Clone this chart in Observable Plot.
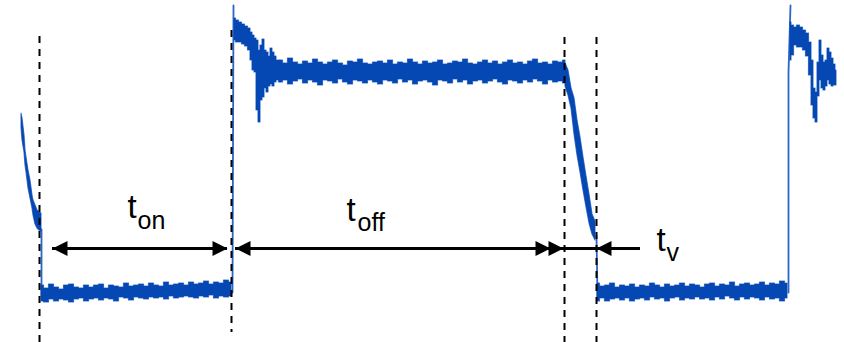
<!DOCTYPE html>
<html>
<head>
<meta charset="utf-8">
<script src="https://cdn.jsdelivr.net/npm/d3@7"></script>
<script src="https://cdn.jsdelivr.net/npm/@observablehq/plot@0.6"></script>
<style>
  html, body { margin: 0; padding: 0; background: #ffffff; }
  #chart { width: 844px; height: 342px; }
</style>
</head>
<body>
<div id="chart"></div>
<script>
// ---- Data (x = time in sample units, y = level in screen-like units, 0 at top) ----
// initial falling tail
const startX      = [21, 22, 24, 25, 26, 28, 30, 32, 33, 35, 37, 39, 41];
const startTop    = [113, 118, 135, 150, 157, 170, 180, 195, 200, 205, 210, 212, 213];
const startBottom = [127, 140, 152, 165, 172, 188, 198, 208, 215, 224, 228, 230, 231];

// low (on) plateau 1, sampled every 5 units from 41
const low1Top = [285,288,284,287,289,285,284,287,288,285, 287,285,284,288,285,286,287,283,286,285,
                 284,286,283,285,286,282,285,284,283,285, 282,284,283,281,284,282,283,280,282];
const low1Bottom = [301,302,299,301,299,300,302,299,298,301, 299,298,300,298,299,301,297,298,300,297,
                    298,299,297,298,297,299,296,298,297,296, 297,298,296,297,295,298,296,297,296];

// turn-off ringing 1
const ring1X      = [234, 237, 240, 243, 246, 249, 251, 253, 255, 257, 259, 261, 263, 265, 267, 269, 271, 273, 275, 277, 280];
const ring1Top    = [18, 20, 22, 24, 26, 28, 32, 35, 38, 40, 50, 45, 39, 50, 52, 56, 48, 52, 56, 60, 60];
const ring1Bottom = [40, 42, 42, 44, 46, 50, 60, 70, 72, 110, 122, 100, 97, 88, 92, 86, 84, 86, 82, 80, 82];

// high (off) plateau, sampled every 5 units from 280
const plateauTop = [60,63,58,62,64,61,63,59,62,64, 62,60,63,65,61,62,59,63,64,62,
                    61,63,60,64,62,63,59,62,64,61, 63,62,60,64,63,61,62,59,63,64,
                    62,60,63,61,64,62,60,63,62,64, 61,59,63,62,64,61,62,60];
const plateauBottom = [82,80,84,81,79,83,80,82,85,80, 81,83,79,82,84,80,81,83,80,82,
                       84,80,81,83,79,82,80,84,81,80, 82,85,80,81,83,79,82,80,84,81,
                       80,83,81,79,82,84,80,81,83,80, 82,79,81,84,80,82,81,83];

// falling ramp (t_v)
const fallX      = [565, 568, 571, 574, 577, 580, 583, 586, 589, 592, 595];
const fallTop    = [63, 70, 88, 98, 120, 137, 157, 176, 194, 214, 221];
const fallBottom = [86, 95, 108, 134, 155, 172, 190, 207, 223, 234, 240];

// low (on) plateau 2, sampled every 5 units from 597
const low2Top = [283,286,285,283,287,285,286,284,287,285, 286,283,285,287,284,286,285,283,286,284,
                 285,287,284,283,286,284,285,282,286,284, 283,285,284,282,285,283,284,281,283];
const low2Bottom = [301,298,301,299,298,300,298,301,299,298, 300,297,299,298,301,298,297,300,298,299,
                    297,299,298,300,297,299,296,298,300,297, 299,297,298,300,297,299,298,301,298];

// turn-off ringing 2
const ring2X      = [790, 792, 795, 798, 801, 804, 807, 810, 812, 814, 816, 818, 820, 822, 824, 826, 828, 830, 832, 834, 836];
const ring2Top    = [22, 25, 27, 25, 27, 30, 33, 42, 60, 88, 92, 62, 40, 55, 62, 60, 48, 52, 58, 64, 70];
const ring2Bottom = [60, 55, 45, 47, 47, 50, 56, 75, 105, 118, 122, 96, 80, 88, 90, 86, 80, 84, 86, 85, 85];

// fast switching edges
const edgeId = ["d1", "d1", "r1", "r1", "d2", "d2", "r2", "r2", "r2"];
const edgeX  = [41, 41, 232, 233, 596, 597, 788, 788, 790];
const edgeY  = [229, 296, 292, 5, 235, 297, 292, 72, 5];

// dashed markers
const dashX      = [39, 231, 564, 596];
const dashTop    = [36, 30, 37, 37];
const dashBottom = [342, 332, 342, 342];

// arrows
const arrowX1 = [52, 235, 563];
const arrowX2 = [227, 563, 640];
const arrowY  = 248;
const headX   = [52, 227, 235, 550, 563, 596];
const headDir = ["left", "right", "left", "right", "right", "left"];

// labels
const labelMain = ["t", "t", "t"];
const labelSub  = ["on", "off", "v"];
const labelX    = [127, 346, 656];
const labelSubX = [137, 357, 666];
const labelY    = [217, 220, 250];
const labelSubY = [228, 230, 260];

// ---- Build tables ----
const band = (xs, tops, bottoms) => xs.map((x, i) => ({x, top: tops[i], bottom: bottoms[i]}));
const low1 = band(d3.range(41, 232, 5), low1Top, low1Bottom);
const plateau = band(d3.range(280, 566, 5), plateauTop, plateauBottom);
const low2 = band(d3.range(597, 788, 5), low2Top, low2Bottom);
const ring1 = band(ring1X, ring1Top, ring1Bottom);
const ring2 = band(ring2X, ring2Top, ring2Bottom);
const fall = band(fallX, fallTop, fallBottom);
const start = band(startX, startTop, startBottom);
const edges = edgeX.map((x, i) => ({id: edgeId[i], x, y: edgeY[i]}));
const dashes = dashX.map((x, i) => ({x, y1: dashTop[i], y2: dashBottom[i]}));
const arrows = arrowX1.map((x1, i) => ({x1, x2: arrowX2[i], y: arrowY}));
const heads = headX.map((x, i) => ({x, y: arrowY, rotate: headDir[i] === "right" ? 0 : 180}));
const labels = labelMain.map((t, i) => ({t, sub: labelSub[i], x: labelX[i], sx: labelSubX[i], y: labelY[i], sy: labelSubY[i]}));

const BLUE = "#0548b4";
const arrowHead = {
  draw(context) {
    context.moveTo(0, 0);
    context.lineTo(-15, -7.5);
    context.lineTo(-15, 7.5);
    context.closePath();
  }
};

const bandMark = (data, curve) => Plot.areaY(data, {
  x: "x", y1: "bottom", y2: "top", curve,
  fill: BLUE, stroke: BLUE, strokeWidth: 1.2, strokeOpacity: 0.7
});

const chart = Plot.plot({
  width: 844,
  height: 342,
  margin: 0,
  x: {domain: [0, 844], axis: null},
  y: {domain: [0, 342], reverse: true, axis: null},
  style: {background: "white", overflow: "visible"},
  marks: [
    Plot.line(edges, {x: "x", y: "y", z: "id", stroke: "#2a66c8", strokeWidth: 1.8}),
    bandMark(start, "linear"),
    bandMark(low1, "step"),
    bandMark(ring1, "step"),
    bandMark(plateau, "step"),
    bandMark(fall, "linear"),
    bandMark(low2, "step"),
    bandMark(ring2, "step"),
    Plot.ruleX(dashes, {x: "x", y1: "y1", y2: "y2", stroke: "black", strokeWidth: 2, strokeDasharray: "7,6"}),
    Plot.ruleY(arrows, {y: "y", x1: "x1", x2: "x2", stroke: "black", strokeWidth: 3}),
    Plot.dot(heads, {x: "x", y: "y", rotate: "rotate", symbol: arrowHead, fill: "black", stroke: null}),
    Plot.text(labels, {x: "x", y: "y", text: "t", textAnchor: "start", lineAnchor: "bottom",
      fontSize: 33, fontFamily: "Liberation Sans, Arial, sans-serif", fill: "black"}),
    Plot.text(labels, {x: "sx", y: "sy", text: "sub", textAnchor: "start", lineAnchor: "bottom",
      fontSize: 25, fontFamily: "Liberation Sans, Arial, sans-serif", fill: "black"})
  ]
});
document.getElementById("chart").appendChild(chart);
</script>
</body>
</html>
